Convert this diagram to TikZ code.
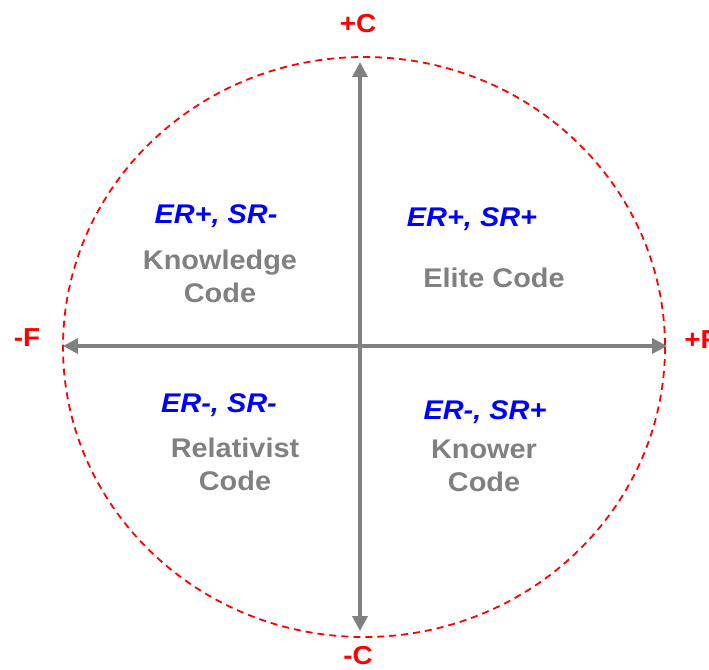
\documentclass[tikz,border=0pt]{standalone}
\usepackage{fontspec}
\setmainfont[FakeStretch=1.07]{Liberation Sans}
\usetikzlibrary{arrows.meta,calc}
\definecolor{AxisClr}{rgb}{0.5,0.5,0.5}
\definecolor{PoleClr}{rgb}{1,0,0}
\definecolor{RuleClr}{rgb}{0,0,1}

\begin{document}
\begin{tikzpicture}[x=1pt,y=-1pt,
  pole/.style={text=PoleClr,font=\bfseries\fontsize{26}{26}\selectfont},
  rule/.style={text=RuleClr,font=\bfseries\itshape\fontsize{27}{27}\selectfont},
  code/.style={text=AxisClr,align=center,font=\bfseries\fontsize{27}{33}\selectfont},
  axis/.style={AxisClr,line width=3.5pt,{Triangle[length=15pt,width=15pt]}-{Triangle[length=15pt,width=15pt]}}]
\useasboundingbox (0,0) rectangle (709,669);

\coordinate (O) at (364,347);
\coordinate (Ct) at (360,62);
\coordinate (Cb) at (360,631);
\coordinate (Fl) at (63,346);
\coordinate (Fr) at (667,346);

% plane
\draw[PoleClr,line width=1.8pt,dash pattern=on 7pt off 5pt] (O) ellipse [x radius=301,y radius=290];
\draw[axis] (Cb) -- (Ct);
\draw[axis] (Fl) -- (Fr);

% poles
\node[pole] (pC) at (358,24) {+C};
\node[pole] (mC) at (358,656) {-C};
\node[pole] (mF) at (27,338) {-F};
\node[pole] (pF) at (701,340) {+F};

% quadrants
\node[rule] (kr) at (216,216) {ER+, SR-};
\node[code] (kc) at (220,276) {Knowledge\\Code};
\node[rule] (er) at (472,219) {ER+, SR+};
\node[code] (ec) at (494,278) {Elite Code};
\node[rule] (rr) at (219,405) {ER-, SR-};
\node[code] (rc) at (235,464) {Relativist\\Code};
\node[rule] (wr) at (485,412) {ER-, SR+};
\node[code] (wc) at (484,466) {Knower\\Code};

\end{tikzpicture}
\end{document}
